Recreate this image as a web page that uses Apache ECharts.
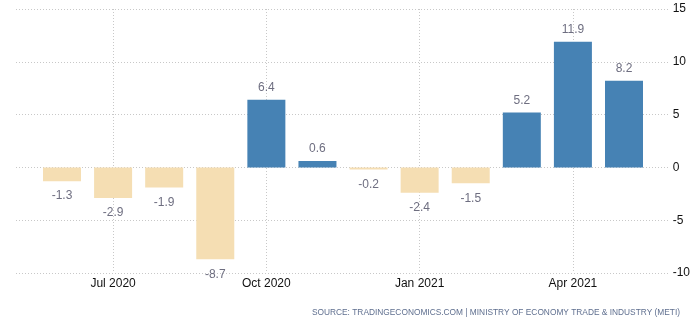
<!DOCTYPE html>
<html>
<head>
<meta charset="utf-8">
<script src="https://cdn.jsdelivr.net/npm/echarts@6/dist/echarts.min.js"></script>
<style>
  html, body { margin: 0; padding: 0; background: #fff; }
  #chart { width: 693px; height: 328px; }
</style>
</head>
<body>
<div id="chart"></div>
<script>
// Monthly change, Jun 2020 – May 2021
const months = ['Jun 2020', 'Jul 2020', 'Aug 2020', 'Sep 2020', 'Oct 2020', 'Nov 2020',
                'Dec 2020', 'Jan 2021', 'Feb 2021', 'Mar 2021', 'Apr 2021', 'May 2021'];
const values = [-1.3, -2.9, -1.9, -8.7, 6.4, 0.6, -0.2, -2.4, -1.5, 5.2, 11.9, 8.2];
const yTicks = [-10, -5, 0, 5, 10, 15];
const sourceText = 'SOURCE: TRADINGECONOMICS.COM | MINISTRY OF ECONOMY TRADE & INDUSTRY (METI)';

const UP = '#4682b4';
const DOWN = '#f5deb3';
const FONT = 'Liberation Sans, Arial, sans-serif';

const barData = values.map(v => ({
  value: v,
  itemStyle: { color: v >= 0 ? UP : DOWN },
  label: { position: v >= 0 ? 'top' : 'bottom', distance: v >= 0 ? 6 : 9 }
}));

const chart = echarts.init(document.getElementById('chart'), null, { renderer: 'canvas' });
chart.setOption({
  animation: false,
  backgroundColor: '#ffffff',
  grid: [
    // full-width grid carrying the horizontal grid lines and the value labels
    { left: 16, right: 23, top: 9, bottom: 55 },
    // inner grid holding the bars, ticks on category centres
    { left: 62, right: 69, top: 9, bottom: 55 }
  ],
  xAxis: [
    { gridIndex: 0, type: 'value', show: false, min: 0, max: 1 },
    {
      gridIndex: 1, type: 'category', data: months, boundaryGap: false,
      axisLine: { show: false }, axisTick: { show: false },
      axisLabel: {
        interval: (i) => i % 3 === 1,
        color: '#111', fontFamily: FONT, fontSize: 12, margin: 5
      },
      splitLine: {
        show: true,
        interval: (i) => i % 3 === 1,
        lineStyle: { color: '#c8c8c8', type: [1, 2], width: 1 }
      }
    }
  ],
  yAxis: [
    {
      gridIndex: 0, type: 'value', position: 'right',
      min: yTicks[0], max: yTicks[yTicks.length - 1], interval: 5,
      axisLine: { show: false }, axisTick: { show: false },
      axisLabel: { color: '#111', fontFamily: FONT, fontSize: 12, margin: 3 },
      splitLine: { lineStyle: { color: '#c8c8c8', type: [1, 2], width: 1 } }
    },
    {
      gridIndex: 1, type: 'value',
      min: yTicks[0], max: yTicks[yTicks.length - 1], interval: 5,
      show: false, splitLine: { show: false }
    }
  ],
  series: [{
    type: 'bar',
    xAxisIndex: 1, yAxisIndex: 1,
    data: barData,
    barWidth: 38,
    clip: false,
    label: {
      show: true,
      color: '#6e6e80',
      fontFamily: FONT,
      fontSize: 12,
      formatter: (p) => p.value.toFixed(1)
    }
  }],
  graphic: [{
    type: 'text',
    right: 13, top: 309,
    style: {
      text: sourceText,
      fill: '#5f6f8f',
      font: '8.35px ' + FONT
    }
  }]
});
</script>
</body>
</html>
